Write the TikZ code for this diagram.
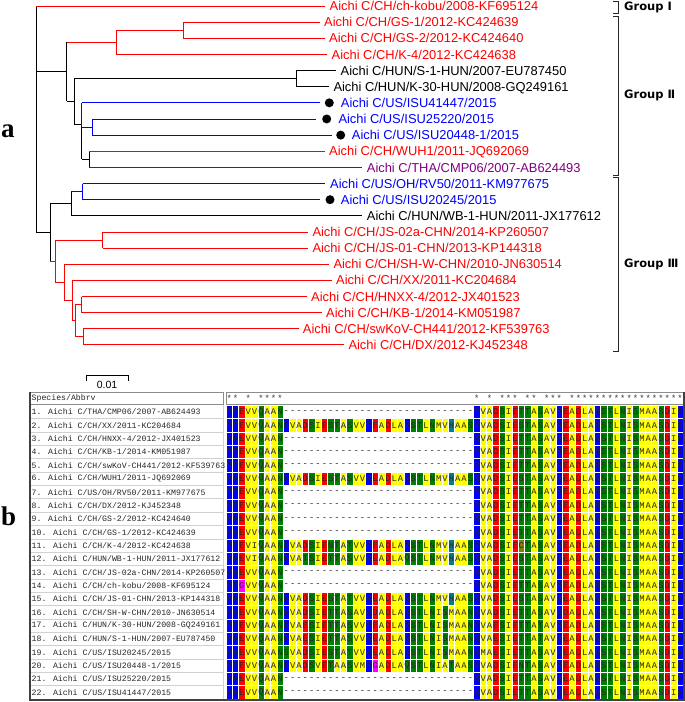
\documentclass[tikz,border=0pt]{standalone}
\usepackage{fontspec}
\setmainfont{Liberation Sans}
\newfontfamily\treefont{Liberation Sans}
\newfontfamily\monofont{Liberation Mono}
\newfontfamily\groupfont{DejaVu Sans}
\newfontfamily\panelfont{Liberation Serif}
\usepackage{xcolor}
\usetikzlibrary{positioning,calc}

\definecolor{treered}{RGB}{255,0,0}
\definecolor{treeblue}{RGB}{0,0,255}
\definecolor{thapurple}{RGB}{128,0,128}
\definecolor{aayellow}{RGB}{255,255,0}
\definecolor{aablue}{RGB}{0,0,255}
\definecolor{aared}{RGB}{255,0,0}
\definecolor{aagreen}{RGB}{0,128,0}
\definecolor{aateal}{RGB}{0,128,128}
\definecolor{aamagenta}{RGB}{255,0,255}
\definecolor{aaolive}{RGB}{128,128,0}

% residue colours
\def\aaA{aayellow}\def\aaV{aayellow}\def\aaI{aayellow}\def\aaL{aayellow}\def\aaM{aayellow}
\def\aaP{aablue}\def\aaF{aablue}\def\aaR{aablue}
\def\aaD{aared}\def\aaE{aared}
\def\aaQ{aagreen}\def\aaN{aagreen}\def\aaS{aagreen}\def\aaT{aagreen}
\def\aaH{aateal}\def\aaG{aamagenta}\def\aaC{aaolive}
\expandafter\def\csname aa-\endcsname{white}

% one alignment row, one cell per character
\newcounter{aapos}
\newcommand\aarow[2]{\setcounter{aapos}{0}\def\aarowno{#1}\edef\aatmp{#2}\expandafter\aanext\aatmp\relax}
\def\aanext#1{\ifx\relax#1\else\stepcounter{aapos}\aacell{#1}\expandafter\aanext\fi}
\newcommand\aacell[1]{\node[aabox,fill=\csname aa#1\endcsname] (s\aarowno-\theaapos)
  at ({226+(\theaapos-0.5)*6.35},{405.3+(\aarowno-0.5)*13.35}) {#1};}
\def\aagap{------------------------------}
\def\aatail{RVADSIETTASAVREADLARSTLNISMAASDIR}

% tree branches
\newcommand\hbr[3]{\draw[branch,#1] (#2|-#3) -- (#3);}
\newcommand\vbr[4]{\draw[branch,#1] (#2|-#3) -- (#2|-#4);}
\newcommand\spname[2]{\node[spname] (n#1) at (31.5,{412+(#1-1)*13.35}) {#1. #2};}

\tikzset{
  leaf/.style={anchor=west,inner sep=0pt,text height=9.2pt,text depth=0pt,
    font=\treefont\fontsize{12.9}{14}\selectfont},
  branch/.style={line width=0.9pt},
  isolate/.style={circle,fill=black,inner sep=0pt,minimum size=9pt},
  bracket/.style={line width=1pt,black!85},
  grouplabel/.style={anchor=west,inner sep=0pt,font=\groupfont\bfseries\fontsize{11.5}{13}\selectfont},
  aabox/.style={rectangle,minimum width=6.35pt,minimum height=13.35pt,inner sep=0pt,
    draw=white,line width=0.5pt,text=black!85,font=\monofont\fontsize{8.8}{9}\selectfont},
  spname/.style={anchor=west,inner sep=0pt,text=black!85,font=\monofont\fontsize{8.2}{9}\selectfont},
  gridline/.style={black!18,line width=0.6pt},
}

\begin{document}
\begin{tikzpicture}[x=1pt,y=-1pt]
\useasboundingbox (0,0) rectangle (685,702);

% panel letters
\node[anchor=base west,inner sep=0pt,font=\panelfont\bfseries\fontsize{27}{30}\selectfont] (pa) at (1,137) {a};
\node[anchor=base west,inner sep=0pt,font=\panelfont\bfseries\fontsize{27}{30}\selectfont] (pb) at (1,525) {b};

% leaf tips
\coordinate (t1) at (325,6);      \coordinate (t2) at (320,22.14);
\coordinate (t3) at (325,38.28);  \coordinate (t4) at (327,54.42);
\coordinate (t5) at (336,70.56);  \coordinate (t6) at (329,86.7);
\coordinate (t7) at (320,102.84); \coordinate (t8) at (316,118.98);
\coordinate (t9) at (332,135.12); \coordinate (t10) at (325,151.26);
\coordinate (t11) at (362,167.4); \coordinate (t12) at (325,183.54);
\coordinate (t13) at (320,199.68);\coordinate (t14) at (362,215.82);
\coordinate (t15) at (308,231.96);\coordinate (t16) at (308,248.1);
\coordinate (t17) at (329,264.24);\coordinate (t18) at (331.5,280.38);
\coordinate (t19) at (307,296.52);\coordinate (t20) at (322,312.66);
\coordinate (t21) at (298.5,328.8);\coordinate (t22) at (344,344.94);

% internal nodes
\coordinate (root) at (36,71.8);
\coordinate (nA) at (66.7,71.8);
\coordinate (nC) at (116,42.3);
\coordinate (nE) at (183.3,30.21);
\coordinate (nD) at (74,101.3);
\coordinate (nF) at (296,78.63);
\coordinate (nG) at (81.7,124);
\coordinate (nH) at (92.3,127.05);
\coordinate (nI) at (89,159.33);
\coordinate (nB) at (50,232.45);
\coordinate (nJ) at (71,203.7);
\coordinate (nL) at (82.7,191.61);
\coordinate (nK) at (55,261.2);
\coordinate (nM) at (102.7,240.03);
\coordinate (nN) at (64,282.4);
\coordinate (nO) at (72.3,300.56);
\coordinate (nP) at (75,320.73);
\coordinate (nQ) at (81.7,304.59);
\coordinate (nR) at (83.3,336.87);

% branches
\vbr{black}{root}{t1}{nB}
\hbr{treered}{root}{t1}
\hbr{black}{root}{nA}
\hbr{black}{root}{nB}
\vbr{black}{nA}{nC}{nD}
\hbr{treered}{nA}{nC}
\vbr{treered}{nC}{nE}{t4}
\hbr{treered}{nC}{nE}
\hbr{treered}{nC}{t4}
\vbr{treered}{nE}{t2}{t3}
\hbr{treered}{nE}{t2}
\hbr{treered}{nE}{t3}
\hbr{black}{nA}{nD}
\vbr{black}{nD}{nF}{nG}
\hbr{black}{nD}{nF}
\vbr{black}{nF}{t5}{t6}
\hbr{black}{nF}{t5}
\hbr{black}{nF}{t6}
\hbr{black}{nD}{nG}
\vbr{treeblue}{nG}{t7}{nH}
\vbr{black}{nG}{nH}{nI}
\hbr{treeblue}{nG}{t7}
\hbr{treeblue}{nG}{nH}
\vbr{treeblue}{nH}{t8}{t9}
\hbr{treeblue}{nH}{t8}
\hbr{treeblue}{nH}{t9}
\hbr{black}{nG}{nI}
\vbr{black}{nI}{t10}{t11}
\hbr{treered}{nI}{t10}
\hbr{thapurple}{nI}{t11}
\vbr{black}{nB}{nJ}{nK}
\hbr{black}{nB}{nJ}
\vbr{black}{nJ}{nL}{t14}
\hbr{treeblue}{nJ}{nL}
\vbr{treeblue}{nL}{t12}{t13}
\hbr{treeblue}{nL}{t12}
\hbr{treeblue}{nL}{t13}
\hbr{black}{nJ}{t14}
\hbr{treered}{nB}{nK}
\vbr{treered}{nK}{nM}{nN}
\hbr{treered}{nK}{nM}
\vbr{treered}{nM}{t15}{t16}
\hbr{treered}{nM}{t15}
\hbr{treered}{nM}{t16}
\hbr{treered}{nK}{nN}
\vbr{treered}{nN}{t17}{nO}
\hbr{treered}{nN}{t17}
\hbr{treered}{nN}{nO}
\vbr{treered}{nO}{t18}{nP}
\hbr{treered}{nO}{t18}
\hbr{treered}{nO}{nP}
\vbr{treered}{nP}{nQ}{nR}
\hbr{treered}{nP}{nQ}
\hbr{treered}{nP}{nR}
\vbr{treered}{nQ}{t19}{t20}
\hbr{treered}{nQ}{t19}
\hbr{treered}{nQ}{t20}
\vbr{treered}{nR}{t21}{t22}
\hbr{treered}{nR}{t21}
\hbr{treered}{nR}{t22}

% leaf labels
\node[leaf,text=treered] (l1) at (329.5,6) {Aichi C/CH/ch-kobu/2008-KF695124};
\node[leaf,text=treered] (l2) at (324,22.14) {Aichi C/CH/GS-1/2012-KC424639};
\node[leaf,text=treered] (l3) at (329,38.28) {Aichi C/CH/GS-2/2012-KC424640};
\node[leaf,text=treered] (l4) at (331.5,54.42) {Aichi C/CH/K-4/2012-KC424638};
\node[leaf] (l5) at (340.5,70.56) {Aichi C/HUN/S-1-HUN/2007-EU787450};
\node[leaf] (l6) at (333.3,86.7) {Aichi C/HUN/K-30-HUN/2008-GQ249161};
\node[leaf,text=treeblue] (l7) at (340.7,102.84) {Aichi C/US/ISU41447/2015};
\node[leaf,text=treeblue] (l8) at (338.3,118.98) {Aichi C/US/ISU25220/2015};
\node[leaf,text=treeblue] (l9) at (351.7,135.12) {Aichi C/US/ISU20448-1/2015};
\node[leaf,text=treered] (l10) at (329,151.26) {Aichi C/CH/WUH1/2011-JQ692069};
\node[leaf,text=thapurple] (l11) at (366.7,167.4) {Aichi C/THA/CMP06/2007-AB624493};
\node[leaf,text=treeblue] (l12) at (330,183.54) {Aichi C/US/OH/RV50/2011-KM977675};
\node[leaf,text=treeblue] (l13) at (340.7,199.68) {Aichi C/US/ISU20245/2015};
\node[leaf] (l14) at (366.7,215.82) {Aichi C/HUN/WB-1-HUN/2011-JX177612};
\node[leaf,text=treered] (l15) at (312.3,231.96) {Aichi C/CH/JS-02a-CHN/2014-KP260507};
\node[leaf,text=treered] (l16) at (312.3,248.1) {Aichi C/CH/JS-01-CHN/2013-KP144318};
\node[leaf,text=treered] (l17) at (333.3,264.24) {Aichi C/CH/SH-W-CHN/2010-JN630514};
\node[leaf,text=treered] (l18) at (336,280.38) {Aichi C/CH/XX/2011-KC204684};
\node[leaf,text=treered] (l19) at (311,296.52) {Aichi C/CH/HNXX-4/2012-JX401523};
\node[leaf,text=treered] (l20) at (326,312.66) {Aichi C/CH/KB-1/2014-KM051987};
\node[leaf,text=treered] (l21) at (302.7,328.8) {Aichi C/CH/swKoV-CH441/2012-KF539763};
\node[leaf,text=treered] (l22) at (348.3,344.94) {Aichi C/CH/DX/2012-KJ452348};

% isolates from this study
\node[isolate] (d7) at (329.3,102.84) {};
\node[isolate] (d8) at (326.7,118.98) {};
\node[isolate] (d9) at (340.7,135.12) {};
\node[isolate] (d13) at (330,199.68) {};

% group brackets
\draw[bracket] (613,1.7) -- (618.5,1.7) -- (618.5,13.3) -- (613,13.3);
\draw[bracket] (613,16) -- (618.5,16) -- (618.5,175) -- (613,175);
\draw[bracket] (613,177) -- (618.5,177) -- (618.5,351.7) -- (613,351.7);
\node[grouplabel] (g1) at (624,7.5) {Group Ⅰ};
\node[grouplabel] (g2) at (624,95.5) {Group Ⅱ};
\node[grouplabel] (g3) at (624,264.5) {Group Ⅲ};

% scale bar
\coordinate (sb1) at (86,375);
\coordinate (sb2) at (128.3,375);
\draw[line width=0.9pt] ([yshift=-6pt]sb1) -- (sb1) -- (sb2) -- ([yshift=-6pt]sb2);
\node[font=\treefont\fontsize{10.5}{12}\selectfont,inner sep=0pt] (sbl) at (107,384.5) {0.01};

% alignment frame
\draw[black!45,line width=0.7pt] (30,392) rectangle (223,404.6);
\draw[black!45,line width=0.7pt] (226,392) rectangle (684,404.6);
\node[anchor=west,inner sep=0pt,text=black!85,font=\monofont\fontsize{8.2}{9}\selectfont] (hdr) at (31.5,398.3) {Species/Abbrv};
\foreach \k in {1,...,21}{
  \draw[gridline] (30,{405.3+\k*13.35}) -- (223,{405.3+\k*13.35});
}
\draw[gridline] (223,405.3) -- (223,699);

% conserved columns
\foreach \c in {1,2,4,6,7,8,9,40,42,44,45,46,48,49,51,52,53,55,56,...,72}{
  \node[inner sep=0pt,text=black!80,font=\monofont\fontsize{8.8}{9}\selectfont] (h\c)
    at ({226+(\c-0.5)*6.35},398.6) {*};
}

% species names
\spname{1}{Aichi C/THA/CMP06/2007-AB624493}
\spname{2}{Aichi C/CH/XX/2011-KC204684}
\spname{3}{Aichi C/CH/HNXX-4/2012-JX401523}
\spname{4}{Aichi C/CH/KB-1/2014-KM051987}
\spname{5}{Aichi C/CH/swKoV-CH441/2012-KF539763}
\spname{6}{Aichi C/CH/WUH1/2011-JQ692069}
\spname{7}{Aichi C/US/OH/RV50/2011-KM977675}
\spname{8}{Aichi C/CH/DX/2012-KJ452348}
\spname{9}{Aichi C/CH/GS-2/2012-KC424640}
\spname{10}{Aichi C/CH/GS-1/2012-KC424639}
\spname{11}{Aichi C/CH/K-4/2012-KC424638}
\spname{12}{Aichi C/HUN/WB-1-HUN/2011-JX177612}
\spname{13}{Aichi C/CH/JS-02a-CHN/2014-KP260507}
\spname{14}{Aichi C/CH/ch-kobu/2008-KF695124}
\spname{15}{Aichi C/CH/JS-01-CHN/2013-KP144318}
\spname{16}{Aichi C/CH/SH-W-CHN/2010-JN630514}
\spname{17}{Aichi C/HUN/K-30-HUN/2008-GQ249161}
\spname{18}{Aichi C/HUN/S-1-HUN/2007-EU787450}
\spname{19}{Aichi C/US/ISU20245/2015}
\spname{20}{Aichi C/US/ISU20448-1/2015}
\spname{21}{Aichi C/US/ISU25220/2015}
\spname{22}{Aichi C/US/ISU41447/2015}

% sequences
\aarow{1}{PFEVVQAAN\aagap\aatail}
\aarow{2}{PFEVVQAANRVADSIESTASVVREADLARSTLNMVHAASRVADSIESTASAVREADLARSTLNISMAASDIR}
\aarow{3}{PFEVVQAAN\aagap\aatail}
\aarow{4}{PFEVVQAAN\aagap\aatail}
\aarow{5}{PFEVVQAAN\aagap\aatail}
\aarow{6}{PFEVVQAANRVADSIESTASVVREADLARSTLNMVHAASRVADSIESTASAVREADLARSTLNISMAASDIR}
\aarow{7}{PFEVVQAAN\aagap\aatail}
\aarow{8}{PFEVVQAAN\aagap\aatail}
\aarow{9}{PFEVVQAAN\aagap\aatail}
\aarow{10}{PFEVVQAAN\aagap\aatail}
\aarow{11}{PFEVIQAANRVADSIENTATVVREADLARSTLNMVHAASRVADSIECTASAVREADLARSTLNISMAASDIR}
\aarow{12}{PFEVIQAANRVATSIETTASVVREADLAQSTLNMVHAASRVADSIESTASAVREADLARSTLNISMAASDIR}
\aarow{13}{PFEVVQAAN\aagap\aatail}
\aarow{14}{PFGVVQAAN\aagap\aatail}
\aarow{15}{PFEVVQAANRVADSIESTATVVREADLARSTLNMVHAASRVADSIESTASAVREADLARSTLNISMAASDIR}
\aarow{16}{PFEVVQAANRVADSIETTASAVRDADLARSTLNISMAANRVADSIETTASAVRDADLARSTLNISMAASDIR}
\aarow{17}{PFEVVQAANRVAESIETTASVVREADLARSTLNISMAANRVAESIETTATAVREADLARSTLNISMAASDIR}
\aarow{18}{PFEVVQAANRVAESIETTASVVREADLARSTLNISMAANRVAESIETTATAVREADLARSTLNISMAASDIR}
\aarow{19}{PFEVVQAANSVADSIESTATVVREADLARSTLNISMAANRMAESIETTASAVREADLARSTLNISMAASDIR}
\aarow{20}{PFEVVQAANRVADSVETAASVMRGADLAQSTLNIATAASRVADSIENTASAVREADLARSTLNISMAASDIR}
\aarow{21}{PFEVVQAAN\aagap\aatail}
\aarow{22}{PFEVVQAAN\aagap\aatail}

% outer edges of the alignment window
\draw[black!75,line width=1.2pt] (30,392) -- (30,700) -- (684,700) -- (684,392);
\end{tikzpicture}
\end{document}
